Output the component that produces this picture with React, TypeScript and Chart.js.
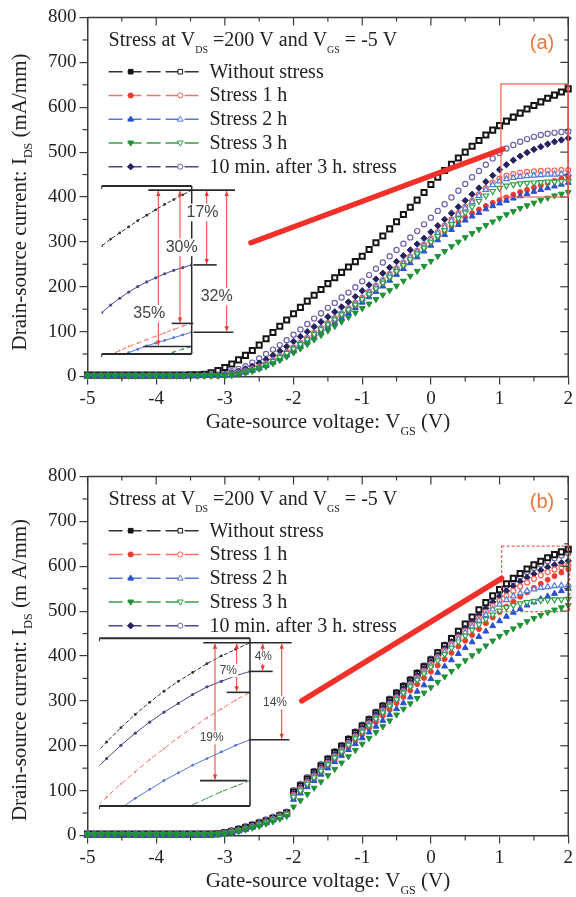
import React, { useEffect, useRef } from "react";
import { Chart, registerables } from "chart.js";
Chart.register(...registerables);

// ---------------- DATA ----------------
// Gate-source voltage sweep (V)
const XS = [
  -5, -4.9, -4.8, -4.7, -4.6, -4.5, -4.4, -4.3, -4.2, -4.1,
  -4, -3.9, -3.8, -3.7, -3.6, -3.5, -3.4, -3.3, -3.2, -3.1,
  -3, -2.9, -2.8, -2.7, -2.6, -2.5, -2.4, -2.3, -2.2, -2.1,
  -2, -1.9, -1.8, -1.7, -1.6, -1.5, -1.4, -1.3, -1.2, -1.1,
  -1, -0.9, -0.8, -0.7, -0.6, -0.5, -0.4, -0.3, -0.2, -0.1,
  0, 0.1, 0.2, 0.3, 0.4, 0.5, 0.6, 0.7, 0.8, 0.9,
  1, 1.1, 1.2, 1.3, 1.4, 1.5, 1.6, 1.7, 1.8, 1.9,
  2,
];
const X_TICKS = [-5, -4, -3, -2, -1, 0, 1, 2];
const Y_TICKS = [0, 100, 200, 300, 400, 500, 600, 700, 800];

// ---- Panel (a) drain current, mA/mm ----
const A_WO = [
  3, 3, 3, 3, 3, 3, 3, 3, 3, 3,
  3, 3, 3, 3, 3, 4, 4, 5, 8, 13,
  20, 28, 37, 47, 58, 70, 84, 98, 112, 126,
  140, 154, 168, 181, 194, 207, 220, 232, 244, 256,
  268, 283, 298, 313, 329, 345, 361, 377, 393, 410,
  428, 444, 459, 473, 487, 500, 513, 526, 538, 549,
  559, 569, 578, 587, 596, 604, 612, 620, 627, 634,
  641,
];
const A_R10_O = [
  2, 2, 2, 2, 2, 2, 2, 2, 2, 2,
  2, 2, 2, 2, 2, 2, 2, 2, 3, 5,
  8, 12, 17, 23, 31, 40, 50, 60, 70, 81,
  93, 105, 117, 129, 141, 153, 164, 176, 187, 199,
  212, 226, 240, 254, 268, 282, 296, 310, 324, 339,
  354, 369, 384, 399, 414, 429, 444, 458, 472, 486,
  498, 508, 516, 523, 529, 534, 538, 541, 543, 545,
  546,
];
const A_R10_F = [
  2, 2, 2, 2, 2, 2, 2, 2, 2, 2,
  2, 2, 2, 2, 2, 2, 2, 2, 2, 3,
  5, 8, 12, 17, 23, 30, 38, 47, 57, 67,
  78, 89, 100, 111, 122, 133, 144, 155, 166, 178,
  191, 204, 217, 230, 243, 256, 269, 282, 295, 308,
  322, 336, 350, 364, 378, 392, 406, 420, 434, 448,
  461, 472, 482, 491, 499, 506, 512, 518, 523, 527,
  531,
];
const A_S1_O = [
  2, 2, 2, 2, 2, 2, 2, 2, 2, 2,
  2, 2, 2, 2, 2, 2, 2, 2, 2, 2,
  3, 5, 8, 12, 17, 22, 29, 37, 46, 55,
  65, 75, 86, 97, 108, 119, 130, 141, 152, 164,
  176, 189, 202, 215, 228, 241, 254, 267, 280, 294,
  308, 322, 336, 350, 364, 378, 392, 406, 420, 432,
  441, 447, 451, 454, 456, 457, 458, 459, 459, 460,
  460,
];
const A_S1_F = [
  2, 2, 2, 2, 2, 2, 2, 2, 2, 2,
  2, 2, 2, 2, 2, 2, 2, 2, 2, 2,
  2, 4, 6, 10, 14, 19, 25, 32, 40, 49,
  58, 68, 78, 89, 100, 111, 122, 133, 145, 157,
  170, 183, 196, 209, 222, 235, 248, 261, 274, 287,
  300, 312, 324, 335, 345, 355, 364, 372, 380, 387,
  393, 399, 405, 411, 416, 421, 426, 431, 436, 441,
  445,
];
const A_S2_O = [
  2, 2, 2, 2, 2, 2, 2, 2, 2, 2,
  2, 2, 2, 2, 2, 2, 2, 2, 2, 2,
  3, 4, 7, 11, 15, 20, 27, 35, 44, 53,
  63, 73, 84, 95, 106, 117, 128, 139, 150, 162,
  174, 187, 200, 213, 226, 239, 252, 265, 278, 291,
  305, 319, 333, 347, 361, 375, 389, 403, 416, 427,
  435, 440, 443, 445, 447, 448, 449, 450, 450, 451,
  451,
];
const A_S2_F = [
  2, 2, 2, 2, 2, 2, 2, 2, 2, 2,
  2, 2, 2, 2, 2, 2, 2, 2, 2, 2,
  2, 3, 5, 9, 13, 18, 24, 31, 39, 47,
  56, 66, 76, 86, 97, 108, 119, 130, 141, 153,
  165, 177, 189, 201, 214, 227, 240, 253, 266, 279,
  292, 304, 316, 327, 338, 348, 357, 365, 373, 380,
  386, 392, 397, 402, 407, 412, 416, 420, 424, 428,
  432,
];
const A_S3_O = [
  2, 2, 2, 2, 2, 2, 2, 2, 2, 2,
  2, 2, 2, 2, 2, 2, 2, 2, 2, 2,
  3, 4, 6, 10, 14, 19, 26, 34, 43, 52,
  62, 72, 83, 94, 105, 116, 127, 138, 149, 160,
  172, 184, 196, 209, 222, 235, 248, 261, 274, 287,
  300, 313, 326, 339, 352, 365, 378, 391, 403, 413,
  420, 425, 428, 430, 431, 432, 433, 434, 434, 435,
  435,
];
const A_S3_F = [
  2, 2, 2, 2, 2, 2, 2, 2, 2, 2,
  2, 2, 2, 2, 2, 2, 2, 2, 2, 2,
  2, 3, 5, 8, 12, 17, 22, 29, 36, 44,
  53, 62, 72, 82, 92, 102, 112, 122, 132, 142,
  152, 162, 172, 182, 192, 202, 213, 224, 235, 246,
  257, 268, 279, 290, 300, 310, 319, 328, 337, 345,
  353, 361, 368, 375, 381, 387, 393, 398, 403, 407,
  411,
];

// ---- Panel (b) drain current, mA/mm ----
const B_WO = [
  3, 3, 3, 3, 3, 3, 3, 3, 3, 3,
  3, 3, 3, 3, 3, 3, 3, 3, 3, 4,
  6, 9, 13, 17, 22, 27, 32, 38, 44, 50,
  97, 111, 126, 141, 155, 170, 185, 199, 214, 229,
  244, 258, 273, 288, 302, 317, 332, 346, 361, 376,
  391, 407, 423, 439, 455, 471, 487, 503, 519, 534,
  548, 561, 573, 584, 594, 603, 611, 619, 626, 632,
  638,
];
const B_R10_O = [
  3, 3, 3, 3, 3, 3, 3, 3, 3, 3,
  3, 3, 3, 3, 3, 3, 3, 3, 3, 5,
  8, 12, 16, 21, 26, 31, 36, 42, 47, 53,
  101, 115, 130, 144, 159, 173, 188, 202, 217, 232,
  247, 261, 276, 291, 305, 320, 335, 349, 364, 379,
  394, 409, 425, 441, 456, 472, 487, 502, 517, 531,
  544, 556, 567, 577, 587, 596, 604, 611, 618, 624,
  629,
];
const B_R10_F = [
  3, 3, 3, 3, 3, 3, 3, 3, 3, 3,
  3, 3, 3, 3, 3, 3, 3, 3, 3, 4,
  6, 9, 12, 16, 21, 26, 31, 37, 43, 49,
  93, 107, 122, 137, 151, 166, 181, 195, 210, 225,
  240, 254, 269, 284, 298, 313, 328, 342, 357, 372,
  387, 402, 417, 432, 447, 462, 477, 492, 506, 520,
  533, 545, 556, 566, 575, 583, 591, 598, 603, 608,
  612,
];
const B_S1_O = [
  3, 3, 3, 3, 3, 3, 3, 3, 3, 3,
  3, 3, 3, 3, 3, 3, 3, 3, 3, 4,
  6, 9, 12, 16, 21, 26, 31, 37, 43, 49,
  90, 104, 119, 133, 148, 162, 177, 191, 206, 221,
  235, 250, 264, 279, 293, 308, 322, 337, 352, 367,
  382, 397, 412, 427, 442, 456, 470, 484, 498, 511,
  523, 534, 545, 555, 564, 572, 580, 587, 593, 598,
  602,
];
const B_S1_F = [
  2, 2, 2, 2, 2, 2, 2, 2, 2, 2,
  2, 2, 2, 2, 2, 2, 2, 2, 2, 3,
  5, 8, 11, 15, 20, 25, 30, 36, 42, 48,
  85, 99, 113, 127, 141, 155, 169, 183, 197, 211,
  225, 239, 253, 267, 281, 295, 309, 323, 337, 351,
  365, 379, 393, 407, 421, 434, 447, 460, 473, 486,
  498, 510, 521, 532, 542, 552, 561, 570, 578, 586,
  593,
];
const B_S2_O = [
  3, 3, 3, 3, 3, 3, 3, 3, 3, 3,
  3, 3, 3, 3, 3, 3, 3, 3, 3, 3,
  5, 8, 11, 15, 20, 25, 30, 36, 42, 48,
  88, 102, 117, 131, 146, 160, 175, 189, 204, 218,
  233, 247, 262, 276, 291, 305, 320, 334, 349, 364,
  379, 394, 409, 424, 438, 452, 466, 479, 492, 504,
  515, 525, 533, 540, 545, 549, 552, 554, 556, 557,
  558,
];
const B_S2_F = [
  2, 2, 2, 2, 2, 2, 2, 2, 2, 2,
  2, 2, 2, 2, 2, 2, 2, 2, 2, 3,
  4, 7, 10, 14, 18, 23, 28, 34, 40, 46,
  80, 94, 108, 122, 136, 150, 164, 178, 191, 204,
  217, 230, 243, 256, 269, 282, 295, 308, 321, 335,
  349, 363, 377, 391, 405, 418, 431, 443, 455, 467,
  478, 488, 497, 505, 513, 520, 527, 533, 539, 545,
  550,
];
const B_S3_O = [
  3, 3, 3, 3, 3, 3, 3, 3, 3, 3,
  3, 3, 3, 3, 3, 3, 3, 3, 3, 3,
  5, 8, 11, 15, 19, 24, 29, 35, 41, 47,
  86, 100, 115, 129, 144, 158, 173, 187, 202, 216,
  231, 245, 260, 274, 289, 303, 318, 332, 347, 361,
  376, 390, 404, 418, 432, 445, 458, 470, 482, 492,
  501, 508, 513, 517, 520, 522, 524, 525, 526, 526,
  527,
];
const B_S3_F = [
  2, 2, 2, 2, 2, 2, 2, 2, 2, 2,
  2, 2, 2, 2, 2, 2, 2, 2, 2, 2,
  4, 6, 9, 13, 17, 21, 26, 31, 37, 43,
  64, 78, 92, 106, 120, 134, 148, 162, 176, 190,
  204, 217, 230, 243, 256, 269, 282, 294, 306, 318,
  330, 342, 354, 366, 378, 390, 401, 412, 423, 434,
  444, 453, 461, 469, 477, 484, 491, 497, 503, 508,
  513,
];

const LEGEND_LABELS = [
  "Without stress",
  "Stress 1 h",
  "Stress 2 h",
  "Stress 3 h",
  "10 min. after 3 h. stress",
];

// ---------------- STYLES ----------------
const SERIF = "'Liberation Serif', 'Times New Roman', Times, serif";
const SANS = "'Liberation Sans', Arial, Helvetica, sans-serif";
const AXIS = "#3a3a3a";
const TEXT = "#222";

type PStyle = "rect" | "circle" | "triangle" | "rectRot";
interface Look {
  filled: string;
  open: string;
  line: string;
  fStyle: PStyle;
  fRot: number;
  oStyle: PStyle;
  oRot: number;
  fr: number;
  or: number;
  insetDash: number[];
  insetDot: number;
}
const LOOK_WO: Look = { filled: "#151515", open: "#151515", line: "#333", fStyle: "rect", fRot: 0, oStyle: "rect", oRot: 0, fr: 3.6, or: 3.6, insetDash: [4, 2], insetDot: 1.4 };
const LOOK_S1: Look = { filled: "#ee3b2e", open: "#f0604f", line: "#f07565", fStyle: "circle", fRot: 0, oStyle: "circle", oRot: 0, fr: 2.5, or: 2.5, insetDash: [5, 3], insetDot: 0.9 };
const LOOK_S2: Look = { filled: "#2a50cf", open: "#5577dd", line: "#5577dd", fStyle: "triangle", fRot: 0, oStyle: "triangle", oRot: 0, fr: 3.4, or: 3.3, insetDash: [], insetDot: 1.4 };
const LOOK_S3: Look = { filled: "#1d9236", open: "#2f9e48", line: "#3a9a48", fStyle: "triangle", fRot: 180, oStyle: "triangle", oRot: 180, fr: 3.4, or: 3.3, insetDash: [5, 3], insetDot: 0.9 };
const LOOK_R10: Look = { filled: "#25235f", open: "#6e60a8", line: "#4b4690", fStyle: "rectRot", fRot: 0, oStyle: "circle", oRot: 0, fr: 3.2, or: 2.6, insetDash: [], insetDot: 1.6 };
const LEGEND_LOOKS = [LOOK_WO, LOOK_S1, LOOK_S2, LOOK_S3, LOOK_R10];

interface InsetCfg {
  left: number; top: number; width: number; height: number;
  pad: { left: number; top: number; right: number; bottom: number };
  xMin: number; xMax: number; yMin: number; yMax: number;
  font: number;
  levels: { s: number; x0: number; x1: number }[];
  arrows: { s: number; dx: number; label: string; ldx: number; frac: number }[];
}
interface PanelCfg {
  top: number;
  tag: string;
  yUnit: string;
  yTitleCenter: number;
  wo: number[]; r10o: number[]; r10f: number[]; s1o: number[]; s1f: number[];
  s2o: number[]; s2f: number[]; s3o: number[]; s3f: number[];
  arrow: { x0: number; y0: number; x1: number; y1: number };
  rect: { x0: number; x1: number; y0: number; y1: number; dash: number[] };
  inset: InsetCfg;
}

const PANEL_A: PanelCfg = {
  top: 0, tag: "(a)", yUnit: " (mA/mm)", yTitleCenter: 202,
  wo: A_WO, r10o: A_R10_O, r10f: A_R10_F, s1o: A_S1_O, s1f: A_S1_F,
  s2o: A_S2_O, s2f: A_S2_F, s3o: A_S3_O, s3f: A_S3_F,
  arrow: { x0: -2.62, y0: 298, x1: 1.05, y1: 507 },
  rect: { x0: 1.02, x1: 2.0, y0: 400, y1: 652, dash: [] },
  inset: {
    left: 92, top: 176, width: 160, height: 186,
    pad: { left: 9.7, top: 10, right: 60.3, bottom: 8 },
    xMin: 1, xMax: 2, yMin: 400, yMax: 647, font: 16,
    levels: [
      { s: 0, x0: -43.4, x1: 43.3 },
      { s: 1, x0: 1.6, x1: 25 },
      { s: 2, x0: -20, x1: 1.6 },
      { s: 3, x0: 1.6, x1: 41.6 },
      { s: 4, x0: -48.4, x1: 0 },
    ],
    arrows: [
      { s: 4, dx: -33.4, label: "35%", ldx: -9, frac: 0.79 },
      { s: 2, dx: -11.7, label: "30%", ldx: 1.7, frac: 0.43 },
      { s: 1, dx: 15, label: "17%", ldx: -4.2, frac: 0.3 },
      { s: 3, dx: 35, label: "32%", ldx: -10, frac: 0.75 },
    ],
  },
};
const PANEL_B: PanelCfg = {
  top: 459, tag: "(b)", yUnit: " (m A/mm)", yTitleCenter: 211,
  wo: B_WO, r10o: B_R10_O, r10f: B_R10_F, s1o: B_S1_O, s1f: B_S1_F,
  s2o: B_S2_O, s2f: B_S2_F, s3o: B_S3_O, s3f: B_S3_F,
  arrow: { x0: -1.88, y0: 300, x1: 1.03, y1: 573 },
  rect: { x0: 1.03, x1: 2.02, y0: 499, y1: 645, dash: [3, 2] },
  inset: {
    left: 90, top: 170, width: 215, height: 186,
    pad: { left: 9.4, top: 9.3, right: 55, bottom: 9 },
    xMin: 0.95, xMax: 2, yMin: 490, yMax: 642, font: 12,
    levels: [
      { s: 0, x0: -46.7, x1: 41.7 },
      { s: 1, x0: 0, x1: 22.7 },
      { s: 2, x0: -23.3, x1: 0 },
      { s: 3, x0: 0, x1: 39.3 },
      { s: 4, x0: -50, x1: -2.7 },
    ],
    arrows: [
      { s: 4, dx: -35, label: "19%", ldx: -3.3, frac: 0.69 },
      { s: 2, dx: -13.3, label: "7%", ldx: -8.4, frac: 0.56 },
      { s: 1, dx: 12.7, label: "4%", ldx: 0.6, frac: 0.5 },
      { s: 3, dx: 31.7, label: "14%", ldx: -6.7, frac: 0.62 },
    ],
  },
};

// ---------------- HELPERS ----------------
const pts = (vals: number[]) => XS.map((x, i) => ({ x, y: vals[i] }));

function markerDs(vals: number[], look: Look, open: boolean) {
  const c = open ? look.open : look.filled;
  return {
    data: pts(vals),
    showLine: false,
    pointStyle: open ? look.oStyle : look.fStyle,
    pointRotation: open ? look.oRot : look.fRot,
    pointRadius: open ? look.or : look.fr,
    pointBackgroundColor: open ? "#ffffff" : c,
    pointBorderColor: c,
    pointBorderWidth: open ? 1.2 : 1,
    clip: false as any,
  };
}

function drawRich(
  ctx: CanvasRenderingContext2D,
  parts: [string, boolean][],
  x: number, y: number, size: number, subSize: number, subDrop: number,
  align: "left" | "center",
) {
  const widths = parts.map(([t, sub]) => {
    ctx.font = `${sub ? subSize : size}px ${SERIF}`;
    return ctx.measureText(t).width;
  });
  const total = widths.reduce((a, b) => a + b, 0);
  let cx = align === "center" ? x - total / 2 : x;
  ctx.textAlign = "left";
  ctx.textBaseline = "alphabetic";
  parts.forEach(([t, sub], i) => {
    ctx.font = `${sub ? subSize : size}px ${SERIF}`;
    ctx.fillText(t, cx, sub ? y + subDrop : y);
    cx += widths[i];
  });
}

function drawMarker(
  ctx: CanvasRenderingContext2D, style: PStyle, rot: number,
  cx: number, cy: number, r: number, fill: string | null, stroke: string, lw: number,
) {
  ctx.save();
  ctx.translate(cx, cy);
  ctx.rotate((rot * Math.PI) / 180);
  ctx.beginPath();
  if (style === "rect") ctx.rect(-r * 0.72, -r * 0.72, r * 1.44, r * 1.44);
  else if (style === "circle") ctx.arc(0, 0, r * 0.8, 0, Math.PI * 2);
  else if (style === "triangle") {
    ctx.moveTo(0, -r);
    ctx.lineTo(r * 0.9, r * 0.6);
    ctx.lineTo(-r * 0.9, r * 0.6);
    ctx.closePath();
  } else {
    ctx.moveTo(0, -r);
    ctx.lineTo(r, 0);
    ctx.lineTo(0, r);
    ctx.lineTo(-r, 0);
    ctx.closePath();
  }
  if (fill) {
    ctx.fillStyle = fill;
    ctx.fill();
  }
  ctx.lineWidth = lw;
  ctx.strokeStyle = stroke;
  ctx.stroke();
  ctx.restore();
}

function seg(ctx: CanvasRenderingContext2D, x0: number, y0: number, x1: number, y1: number) {
  ctx.beginPath();
  ctx.moveTo(x0, y0);
  ctx.lineTo(x1, y1);
  ctx.stroke();
}

// ---------------- PANEL ----------------
function Panel({ cfg }: { cfg: PanelCfg }) {
  const mainRef = useRef<HTMLCanvasElement>(null);
  const insetRef = useRef<HTMLCanvasElement>(null);

  useEffect(() => {
    const p = cfg;
    const datasets = [
      markerDs(p.s3f, LOOK_S3, false),
      markerDs(p.s3o, LOOK_S3, true),
      markerDs(p.s2f, LOOK_S2, false),
      markerDs(p.s2o, LOOK_S2, true),
      markerDs(p.s1f, LOOK_S1, false),
      markerDs(p.s1o, LOOK_S1, true),
      markerDs(p.r10f, LOOK_R10, false),
      {
        data: pts(p.wo),
        showLine: false,
        pointStyle: "rect",
        pointRadius: 3.6,
        pointBackgroundColor: "#ffffff",
        pointBorderColor: "#141414",
        pointBorderWidth: 2,
        clip: false as any,
      },
      markerDs(p.r10o, LOOK_R10, true),
    ];

    const mainPlugin = {
      id: "decor",
      afterDatasetsDraw(chart: any) {
        const { ctx, chartArea: ca, scales } = chart;
        const xs = scales.x, ys = scales.y;
        ctx.save();
        // frame top/right
        ctx.strokeStyle = AXIS;
        ctx.lineWidth = 1.5;
        ctx.beginPath();
        ctx.moveTo(ca.left, ca.top);
        ctx.lineTo(ca.right, ca.top);
        ctx.lineTo(ca.right, ca.bottom);
        ctx.stroke();
        // mirrored + minor ticks
        ctx.lineWidth = 1.2;
        for (let k = 0; k <= 14; k++) {
          const v = -5 + k * 0.5;
          const px = xs.getPixelForValue(v);
          const major = k % 2 === 0;
          seg(ctx, px, ca.top, px, ca.top + (major ? 8 : 4));
          if (!major) seg(ctx, px, ca.bottom, px, ca.bottom + 5);
        }
        for (let k = 0; k <= 16; k++) {
          const v = k * 50;
          const py = ys.getPixelForValue(v);
          const major = k % 2 === 0;
          seg(ctx, ca.right - (major ? 8 : 4), py, ca.right, py);
          if (!major) seg(ctx, ca.left - 5, py, ca.left, py);
        }
        // red rectangle (zoomed region)
        ctx.strokeStyle = "#f06050";
        ctx.lineWidth = 1.2;
        ctx.setLineDash(p.rect.dash);
        const rx0 = xs.getPixelForValue(p.rect.x0), rx1 = xs.getPixelForValue(p.rect.x1);
        const ry0 = ys.getPixelForValue(p.rect.y1), ry1 = ys.getPixelForValue(p.rect.y0);
        ctx.strokeRect(rx0, ry0, rx1 - rx0, ry1 - ry0);
        ctx.setLineDash([]);
        // thick red pointer
        ctx.strokeStyle = "#f2302a";
        ctx.lineWidth = 5.5;
        ctx.lineCap = "round";
        seg(
          ctx,
          xs.getPixelForValue(p.arrow.x0), ys.getPixelForValue(p.arrow.y0),
          xs.getPixelForValue(p.arrow.x1), ys.getPixelForValue(p.arrow.y1),
        );
        ctx.lineCap = "butt";

        // legend header
        ctx.fillStyle = TEXT;
        drawRich(ctx, [["Stress at V", false], ["DS", true], [" =200 V and V", false], ["GS", true], [" = -5 V", false]], 108.6, 45.5, 20, 10, 7, "left");
        // legend rows
        LEGEND_LABELS.forEach((lab, i) => {
          const look = LEGEND_LOOKS[i];
          const ly = 71.7 + 23.75 * i;
          ctx.strokeStyle = look.line;
          ctx.lineWidth = 1.4;
          ctx.setLineDash([14, 5]);
          seg(ctx, 108.6, ly, 202.4, ly);
          ctx.setLineDash([]);
          drawMarker(ctx, look.fStyle, look.fRot, 130.7, ly, 3.2, look.filled, look.filled, 1);
          drawMarker(ctx, look.oStyle, look.oRot, 180.3, ly, 3.2, "#fff", look.open, 1);
          ctx.fillStyle = TEXT;
          ctx.font = `20px ${SERIF}`;
          ctx.textAlign = "left";
          ctx.textBaseline = "alphabetic";
          ctx.fillText(lab, 209.5, ly + 6);
        });
        // panel tag
        ctx.fillStyle = "#ef7636";
        ctx.font = `20px ${SANS}`;
        ctx.textAlign = "center";
        ctx.textBaseline = "middle";
        ctx.fillText(p.tag, 542, 43);

        // axis titles
        ctx.fillStyle = TEXT;
        const cx = (ca.left + ca.right) / 2;
        drawRich(ctx, [["Gate-source voltage: V", false], ["GS", true], [" (V)", false]], cx, 428, 21, 12, 7, "center");
        ctx.save();
        ctx.translate(26, p.yTitleCenter);
        ctx.rotate(-Math.PI / 2);
        drawRich(ctx, [["Drain-source current: I", false], ["DS", true], [p.yUnit, false]], 0, 0, 21, 12, 6, "center");
        ctx.restore();
        ctx.restore();
      },
    };

    const main = new Chart(mainRef.current as HTMLCanvasElement, {
      type: "scatter",
      data: { datasets: datasets as any },
      options: {
        responsive: false,
        animation: false,
        devicePixelRatio: 1,
        events: [],
        layout: { padding: { left: 0, right: 5, top: 17.5, bottom: 0 } },
        plugins: { legend: { display: false }, tooltip: { enabled: false }, title: { display: false } },
        scales: {
          x: {
            type: "linear",
            min: -5,
            max: 2,
            afterBuildTicks: (s: any) => { s.ticks = X_TICKS.map((v) => ({ value: v })); },
            ticks: { font: { family: SERIF, size: 19 }, color: TEXT, padding: 3, callback: (v: any) => String(v) },
            grid: { drawOnChartArea: false, drawTicks: true, tickLength: 8, color: AXIS, lineWidth: 1.2 },
            border: { display: true, color: AXIS, width: 1.5 },
            afterFit: (s: any) => { s.height = 61.5; },
          },
          y: {
            type: "linear",
            min: 0,
            max: 800,
            afterBuildTicks: (s: any) => { s.ticks = Y_TICKS.map((v) => ({ value: v })); },
            ticks: { font: { family: SERIF, size: 19 }, color: TEXT, padding: 3, callback: (v: any) => String(v) },
            grid: { drawOnChartArea: false, drawTicks: true, tickLength: 8, color: AXIS, lineWidth: 1.2 },
            border: { display: true, color: AXIS, width: 1.5 },
            afterFit: (s: any) => { s.width = 87.5; },
          },
        },
      },
      plugins: [mainPlugin as any],
    });

    // ---- inset ----
    const ic = p.inset;
    const insetSeries: [number[], Look][] = [
      [p.wo, LOOK_WO],
      [p.r10f, LOOK_R10],
      [p.s1f, LOOK_S1],
      [p.s2f, LOOK_S2],
      [p.s3f, LOOK_S3],
    ];
    const insetDatasets = insetSeries.map(([vals, look]) => ({
      data: pts(vals),
      showLine: true,
      borderColor: look.line,
      borderWidth: 1,
      borderDash: look.insetDash,
      pointStyle: "circle",
      pointRadius: look.insetDot,
      pointBackgroundColor: look.line,
      pointBorderWidth: 0,
      fill: false,
      tension: 0,
    }));
    const insetPlugin = {
      id: "insetDecor",
      afterDraw(chart: any) {
        const { ctx, chartArea: ca, scales } = chart;
        const ys = scales.y;
        const R = ca.right;
        const lastY = (s: number) => {
          const v = insetSeries[s][0];
          return ys.getPixelForValue(v[v.length - 1]);
        };
        ctx.save();
        ctx.strokeStyle = "#2a2a2a";
        ctx.lineWidth = 2;
        seg(ctx, ca.left, ca.top, R, ca.top);
        seg(ctx, ca.left, ca.bottom, R, ca.bottom);
        ctx.lineWidth = 1.5;
        seg(ctx, R, ca.top, R, ca.bottom);
        ctx.lineWidth = 1;
        seg(ctx, ca.left, ca.top, ca.left, ca.top + 3);
        seg(ctx, ca.left, ca.bottom, ca.left, ca.bottom + 3);
        // level lines
        ctx.lineWidth = 1.6;
        ic.levels.forEach((lv) => {
          const y = lastY(lv.s);
          seg(ctx, R + lv.x0, y, R + lv.x1, y);
        });
        // arrows
        const yTop = lastY(0);
        ctx.strokeStyle = "#f03a32";
        ctx.fillStyle = "#f03a32";
        ctx.lineWidth = 1;
        ic.arrows.forEach((a) => {
          const x = R + a.dx;
          const yb = lastY(a.s);
          seg(ctx, x, yTop + 1, x, yb - 1);
          ctx.beginPath();
          ctx.moveTo(x, yTop + 1);
          ctx.lineTo(x - 2.2, yTop + 6);
          ctx.lineTo(x + 2.2, yTop + 6);
          ctx.closePath();
          ctx.fill();
          ctx.beginPath();
          ctx.moveTo(x, yb - 1);
          ctx.lineTo(x - 2.2, yb - 6);
          ctx.lineTo(x + 2.2, yb - 6);
          ctx.closePath();
          ctx.fill();
        });
        // labels
        ctx.font = `${ic.font}px ${SANS}`;
        ctx.textAlign = "center";
        ctx.textBaseline = "middle";
        ic.arrows.forEach((a) => {
          const x = R + a.dx + a.ldx;
          const yb = lastY(a.s);
          const y = yTop + (yb - yTop) * a.frac;
          const w = ctx.measureText(a.label).width;
          ctx.fillStyle = "#ffffff";
          ctx.fillRect(x - w / 2 - 1, y - ic.font * 0.55, w + 2, ic.font * 1.1);
          ctx.fillStyle = "#444";
          ctx.fillText(a.label, x, y);
        });
        ctx.restore();
      },
    };
    const inset = new Chart(insetRef.current as HTMLCanvasElement, {
      type: "scatter",
      data: { datasets: insetDatasets as any },
      options: {
        responsive: false,
        animation: false,
        devicePixelRatio: 1,
        events: [],
        layout: { padding: ic.pad },
        plugins: { legend: { display: false }, tooltip: { enabled: false } },
        scales: {
          x: { type: "linear", display: false, min: ic.xMin, max: ic.xMax },
          y: { type: "linear", display: false, min: ic.yMin, max: ic.yMax },
        },
      },
      plugins: [insetPlugin as any],
    });

    return () => {
      main.destroy();
      inset.destroy();
    };
  }, [cfg]);

  const ic = cfg.inset;
  return (
    <div style={{ position: "absolute", left: 0, top: cfg.top, width: 576, height: 438 }}>
      <canvas ref={mainRef} width={576} height={438} style={{ position: "absolute", left: 0, top: 0, width: 576, height: 438 }} />
      <canvas
        ref={insetRef}
        width={ic.width}
        height={ic.height}
        style={{ position: "absolute", left: ic.left, top: ic.top, width: ic.width, height: ic.height }}
      />
    </div>
  );
}

export default function App() {
  return (
    <div style={{ position: "absolute", left: 0, top: 0, width: 576, height: 897, background: "#ffffff" }}>
      <Panel cfg={PANEL_A} />
      <Panel cfg={PANEL_B} />
    </div>
  );
}
